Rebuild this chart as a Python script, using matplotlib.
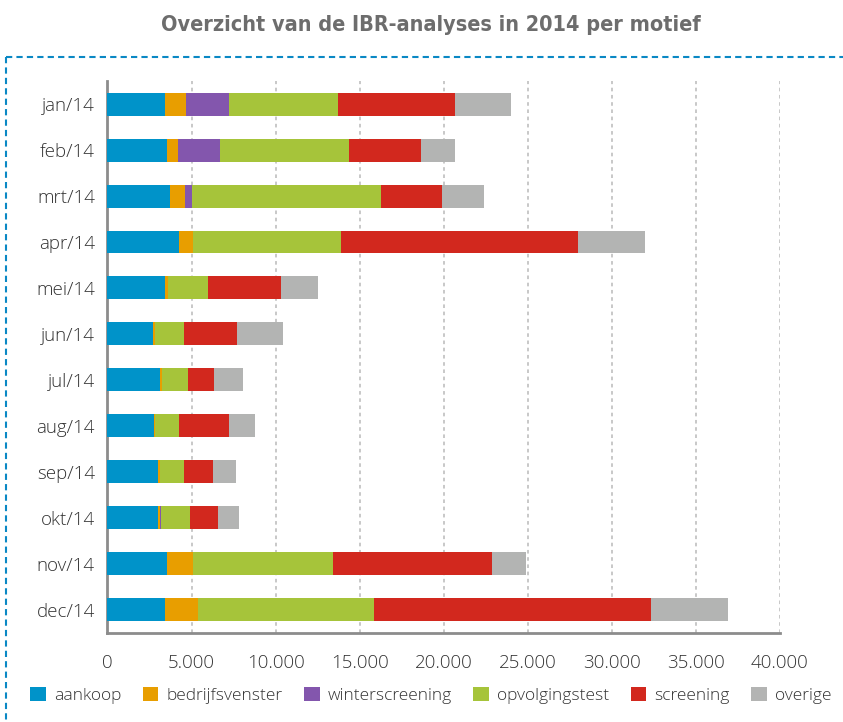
import numpy as np
import matplotlib
matplotlib.use('Agg')
import matplotlib.pyplot as plt
from matplotlib.lines import Line2D

maanden = ['jan/14', 'feb/14', 'mrt/14', 'apr/14', 'mei/14', 'jun/14',
           'jul/14', 'aug/14', 'sep/14', 'okt/14', 'nov/14', 'dec/14']

aankoop = [3420, 3540, 3720, 4260, 3420, 2710, 3130, 2770, 3010, 3010, 3540, 3440]
bedrijfsvenster = [1250, 660, 890, 830, 160, 120, 110, 40, 120, 120, 1540, 1960]
winterscreening = [2560, 2500, 420, 0, 0, 0, 0, 0, 0, 30, 0, 0]
opvolgingstest = [6490, 7670, 11250, 8810, 2400, 1720, 1550, 1450, 1420, 1720, 8350, 10430]
screening = [6960, 4290, 3630, 14080, 4350, 3160, 1550, 2970, 1730, 1670, 9420, 16490]
overige = [3340, 2020, 2500, 3980, 2200, 2740, 1730, 1550, 1370, 1250, 2080, 4570]

series = ['aankoop', 'bedrijfsvenster', 'winterscreening', 'opvolgingstest', 'screening', 'overige']
kleuren = ['#0093c9', '#e89e00', '#8356ad', '#a6c43a', '#d2281e', '#b3b4b3']
waarden = [aankoop, bedrijfsvenster, winterscreening, opvolgingstest, screening, overige]

plt.rcParams['font.family'] = ['Open Sans', 'DejaVu Sans']

fig = plt.figure(figsize=(8.43, 7.22), dpi=100)
ax = fig.add_axes([0.1275, 0.1233, 0.7975, 0.7645])

y = np.arange(len(maanden))
links = np.zeros(len(maanden))
for naam, kleur, w in zip(series, kleuren, waarden):
    ax.barh(y, w, left=links, height=0.5, color=kleur, label=naam, zorder=3)
    links += np.array(w)

ax.set_ylim(len(maanden) - 0.5, -0.5)
ax.set_xlim(0, 40000)
ax.set_yticks(y)
ax.set_yticklabels(maanden)
xt = np.arange(0, 40001, 5000)
ax.set_xticks(xt)
ax.set_xticklabels(['0'] + ['{:,}'.format(v).replace(',', '.') for v in xt[1:]])
ax.tick_params(length=0, labelsize=13.5, colors='#333333')
ax.tick_params(axis='x', pad=15)
ax.tick_params(axis='y', pad=9)
for lbl in ax.get_xticklabels() + ax.get_yticklabels():
    lbl.set_fontweight('light')

ax.grid(axis='x', color='#c4c4c4', linestyle=(0, (2, 2)), linewidth=1.3, zorder=0)
for s in ['top', 'right']:
    ax.spines[s].set_visible(False)
for s in ['left', 'bottom']:
    ax.spines[s].set_color('#8c8c8c')
    ax.spines[s].set_linewidth(2)

fig.text(0.511, 0.966, 'Overzicht van de IBR-analyses in 2014 per motief',
         ha='center', va='center', fontsize=15.5, fontweight='bold', color='#6d6d6d',
         family='DejaVu Sans', fontstretch='condensed')

# blauwe stippelrand
blauw = '#0a88c4'
fig.add_artist(Line2D([0.007, 1.0], [0.921, 0.921], transform=fig.transFigure,
                      color=blauw, linestyle=(0, (3, 2)), linewidth=1.5))
fig.add_artist(Line2D([0.007, 0.007], [0.921, 0.0], transform=fig.transFigure,
                      color=blauw, linestyle=(0, (3, 2)), linewidth=1.5))

fig.legend(loc='center', bbox_to_anchor=(0.511, 0.037), ncol=6, frameon=False,
           fontsize=12.5, handlelength=0.9, handleheight=0.9, handletextpad=0.45,
           columnspacing=1.25, borderaxespad=0)
for t in fig.legends[0].get_texts():
    t.set_color('#333333')
    t.set_fontweight('light')

fig.savefig('out.png', dpi=100)
